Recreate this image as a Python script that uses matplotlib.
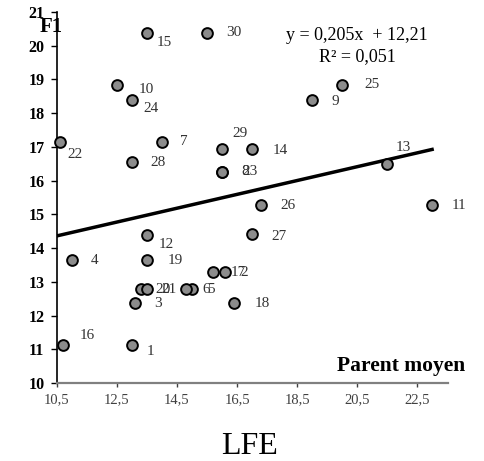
import numpy as np
import matplotlib
matplotlib.use("Agg")
import matplotlib.pyplot as plt

plt.rcParams['font.family'] = ['Liberation Serif', 'DejaVu Serif']

# individus 1..30 : parent moyen (x) et F1 (y)
ids = list(range(1, 31))
parent_moyen = [13.0, 16.1, 13.1, 11.0, 15.0, 14.8, 14.0, 16.0, 19.0, 12.5,
                23.0, 13.5, 21.5, 17.0, 13.5, 10.7, 15.7, 16.4, 13.5, 13.3,
                13.5, 10.6, 16.0, 13.0, 20.0, 17.3, 17.0, 13.0, 16.0, 15.5]
f1 = [11.12, 13.28, 12.37, 13.64, 12.78, 12.78, 17.16, 16.27, 18.40, 18.85,
      15.27, 14.38, 16.50, 16.95, 20.38, 11.12, 13.28, 12.37, 13.64, 12.78,
      12.78, 17.16, 16.27, 18.40, 18.85, 15.27, 14.41, 16.54, 16.95, 20.38]

# droite de tendance
slope = 0.205
intercept = 12.21
r2 = 0.051

x_ticks = [10.5, 12.5, 14.5, 16.5, 18.5, 20.5, 22.5]
y_ticks = list(range(10, 22))

# decalage des etiquettes (pixels, dy vers le bas)
label_offsets = {
    1: (18, 6), 2: (19, 0), 3: (23, 0), 4: (23, 0), 5: (19, 0), 6: (20, 0),
    7: (22, 0), 8: (23, 0), 9: (23, 2), 10: (29, 5), 11: (27, 0), 12: (19, 9),
    13: (16, -16), 14: (28, 2), 15: (17, 10), 16: (24, -10), 17: (25, 0),
    18: (28, 0), 19: (28, 0), 20: (22, 0), 21: (22, 0), 22: (15, 13),
    23: (28, 0), 24: (19, 9), 25: (30, 0), 26: (27, 0), 27: (27, 2),
    28: (26, 0), 29: (18, -15), 30: (27, 0),
}

W, H = 484, 461
fig = plt.figure(figsize=(W / 100, H / 100), dpi=100)
ax = fig.add_axes([57 / W, 1 - 383 / H, 391 / W, 371 / H])

ax.set_xlim(10.5, 23.53)
ax.set_ylim(10, 21)

xl = np.array([10.5, 23.0])
ax.plot(xl, slope * xl + intercept, color='black', lw=2.5, zorder=2)

ax.scatter(parent_moyen, f1, s=60, facecolor='#8c8c8c', edgecolor='black',
           linewidths=1.4, zorder=3, clip_on=False)

for i, x, y in zip(ids, parent_moyen, f1):
    dx, dy = label_offsets[i]
    ax.annotate(str(i), (x, y), xytext=(dx, -dy), textcoords='offset pixels',
                ha='center', va='center', fontsize=11, color='#333333')

for s in ['top', 'right']:
    ax.spines[s].set_visible(False)
ax.spines['left'].set_color('black')
ax.spines['left'].set_linewidth(1.2)
ax.spines['bottom'].set_color('#808080')
ax.spines['bottom'].set_linewidth(1.6)

ax.set_xticks(x_ticks)
ax.set_xticklabels([f"{v:.1f}".replace('.', ',') for v in x_ticks])
ax.set_yticks(y_ticks)
ax.set_yticklabels([str(v) for v in y_ticks], fontweight='bold')
ax.tick_params(axis='y', length=4, width=1, labelsize=11.5, pad=5)
ax.tick_params(axis='x', length=3, width=1, labelsize=10.5, colors='#404040',
               pad=4)

fig.text(51 / W, 1 - 27 / H, 'F1', fontsize=15, fontweight='bold',
         ha='center', va='center')
fig.text(401 / W, 1 - 366 / H, 'Parent moyen', fontsize=15.5, fontweight='bold',
         ha='center', va='center')
fig.text(357 / W, 1 - 35 / H, f"y = {slope:.3f}x  + {intercept:.2f}".replace('.', ','),
         fontsize=13, ha='center', va='center')
fig.text(357 / W, 1 - 57 / H, f"R² = {r2:.3f}".replace('.', ','),
         fontsize=13, ha='center', va='center')
fig.text(250 / W, 1 - 446 / H, 'LFE', fontsize=23, ha='center', va='center')

fig.savefig('out.png', dpi=100)
